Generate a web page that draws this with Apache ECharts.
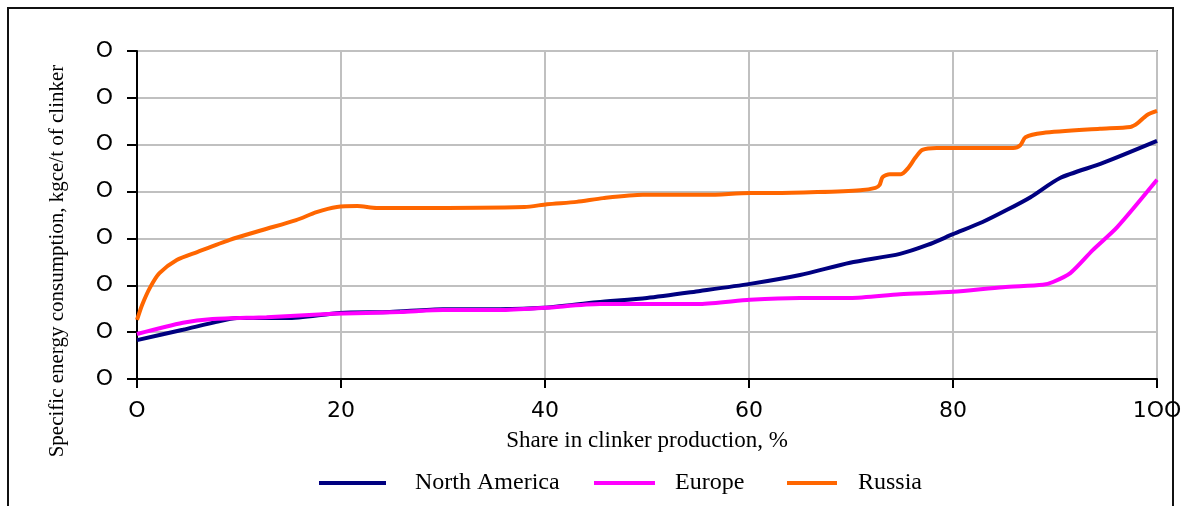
<!DOCTYPE html>
<html>
<head>
<meta charset="utf-8">
<script src="https://cdn.jsdelivr.net/npm/echarts@6/dist/echarts.min.js"></script>
<style>html,body{margin:0;padding:0;background:#fff;}#c{width:1186px;height:506px;}</style>
</head>
<body>
<div id="c"></div>
<script>
var xTickLabels = ['O', '20', '40', '60', '80', '1OO'];
var yTickLabels = ['O', 'O', 'O', 'O', 'O', 'O', 'O', 'O'];

var naPct = [0, 4.5, 7.8, 9.8, 14.7, 19.9, 24.8, 30, 35.6, 39.8, 45.1, 50, 55.2, 60.1, 65, 69.9, 74.8, 77.5, 80, 82.9, 85.3, 87.6, 90.5, 94.7, 100];
var naVal = [0.83, 1.05, 1.22, 1.30, 1.30, 1.41, 1.43, 1.49, 1.49, 1.52, 1.64, 1.73, 1.88, 2.03, 2.22, 2.48, 2.67, 2.86, 3.09, 3.35, 3.61, 3.88, 4.29, 4.61, 5.08];

var euPct = [0, 4.5, 7.4, 12.7, 19.2, 25.8, 30, 35.6, 40, 45.4, 55.2, 60.1, 65, 69.9, 74.8, 80, 84.9, 88.8, 89.8, 91.5, 93.7, 96.1, 100];
var euVal = [0.96, 1.20, 1.28, 1.32, 1.39, 1.43, 1.47, 1.47, 1.52, 1.60, 1.60, 1.69, 1.73, 1.73, 1.81, 1.86, 1.96, 2.01, 2.07, 2.26, 2.75, 3.24, 4.25];

var ruPct = [0, 0.5, 1.3, 2.2, 3.9, 5.9, 9.1, 12.3, 15.6, 17.6, 19.6, 21.6, 23.5, 26.8, 38.0, 40.2, 43.1, 45.7, 49.6, 55.9, 60.1, 62.4, 66.7, 70.9, 72.4, 72.8, 73.1, 73.8, 74.9, 75.6, 76.3, 77.0, 78.4, 82.4, 85.9, 86.6, 87.1, 88.8, 94.4, 97.4, 98.1, 99.0, 100];
var ruVal = [1.26, 1.58, 1.96, 2.26, 2.54, 2.71, 2.97, 3.18, 3.39, 3.56, 3.67, 3.69, 3.65, 3.65, 3.67, 3.73, 3.78, 3.86, 3.93, 3.93, 3.97, 3.97, 3.99, 4.03, 4.08, 4.14, 4.31, 4.37, 4.37, 4.50, 4.72, 4.89, 4.93, 4.93, 4.93, 4.99, 5.16, 5.25, 5.34, 5.38, 5.46, 5.63, 5.72];

function pairs(xs, ys) { return xs.map(function (x, i) { return [x, ys[i]]; }); }

var serif = '"Liberation Serif", "Times New Roman", serif';
var sans = '"DejaVu Sans", Verdana, sans-serif';

function mkSeries(name, color, xs, ys) {
  return {
    name: name, type: 'line', data: pairs(xs, ys),
    showSymbol: false, symbol: 'none', smooth: 0.25,
    lineStyle: { color: color, width: 4 }, itemStyle: { color: color },
    animation: false
  };
}

function mkLegend(name, left, w, pad) {
  return {
    data: [name], left: left, top: 471, padding: 0, icon: 'rect', itemWidth: w, itemHeight: 4,
    selectedMode: false,
    textStyle: { fontFamily: serif, fontSize: 24, color: '#000', padding: [0, 0, 0, pad] }
  };
}

var chart = echarts.init(document.getElementById('c'));
chart.setOption({
  backgroundColor: '#fff',
  animation: false,
  grid: { left: 137, right: 29, top: 51, bottom: 127, show: true, borderColor: '#999', borderWidth: 2 },
  xAxis: {
    type: 'value', min: 0, max: 100, interval: 20,
    name: 'Share in clinker production, %', nameLocation: 'middle', nameGap: 50,
    nameTextStyle: { fontFamily: serif, fontSize: 23, color: '#000' },
    axisLine: { show: true, lineStyle: { color: '#000', width: 2 } },
    axisTick: { show: true, length: 9, lineStyle: { color: '#000', width: 2 } },
    axisLabel: { margin: 21, fontFamily: sans, fontSize: 22, color: '#000',
      formatter: function (v) { return xTickLabels[Math.round(v / 20)]; } },
    splitLine: { show: true, lineStyle: { color: '#c0c0c0', width: 2 } }
  },
  yAxis: {
    type: 'value', min: 0, max: 7, interval: 1,
    axisLine: { show: true, lineStyle: { color: '#000', width: 2 } },
    axisTick: { show: true, length: 10, lineStyle: { color: '#000', width: 2 } },
    axisLabel: { margin: 24, fontFamily: sans, fontSize: 22, color: '#000',
      formatter: function (v) { return yTickLabels[Math.round(v)]; } },
    splitLine: { show: true, lineStyle: { color: '#c0c0c0', width: 2 } }
  },
  legend: [
    mkLegend('North America', 319, 67, 24),
    mkLegend('Europe', 594, 61, 15),
    mkLegend('Russia', 787, 50, 16)
  ],
  graphic: [
    { type: 'rect', shape: { x: 8, y: 8, width: 1165, height: 520 }, style: { fill: 'none', stroke: '#111', lineWidth: 2 }, silent: true },
    { type: 'text', x: 57, y: 261, rotation: Math.PI / 2, silent: true,
      style: { text: 'Specific energy consumption, kgce/t of clinker', font: '21px ' + serif, fill: '#000', align: 'center', verticalAlign: 'middle' } }
  ],
  series: [
    mkSeries('North America', '#000080', naPct, naVal),
    mkSeries('Europe', '#ff00ff', euPct, euVal),
    mkSeries('Russia', '#ff6600', ruPct, ruVal)
  ]
});
</script>
</body>
</html>
